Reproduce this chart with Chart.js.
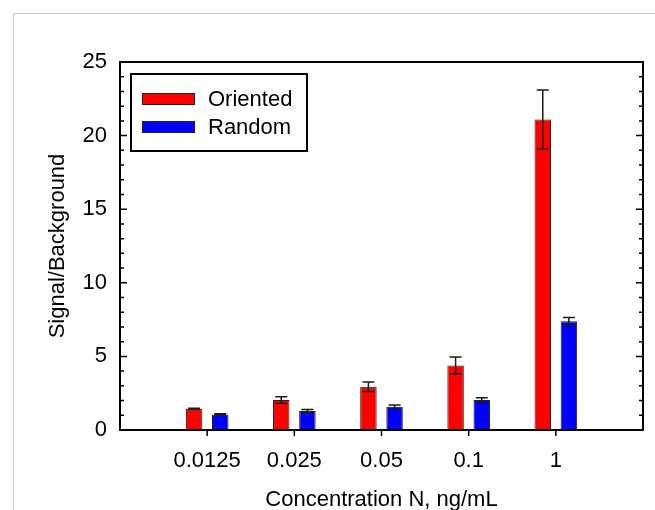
<!DOCTYPE html>
<html>
<head>
<meta charset="utf-8">
<script src="https://cdn.jsdelivr.net/npm/chart.js@4"></script>
<style>
  body { margin: 0; background: #fff; }
  canvas { display: block; }
</style>
</head>
<body>
<canvas id="sbChart" width="655" height="510"></canvas>
<script>
// concentrations (ng/mL) and signal/background ratios
const categories = ['0.0125', '0.025', '0.05', '0.1', '1'];
const orientedVals = [1.45, 2.04, 2.94, 4.39, 21.1];
const orientedErr  = [0.03, 0.22, 0.32, 0.57, 2.0];
const randomVals   = [1.05, 1.29, 1.58, 2.04, 7.38];
const randomErr    = [0.05, 0.11, 0.12, 0.15, 0.27];
const yTicks = [0, 5, 10, 15, 20, 25];

// empty slot at each end, like the original axis
const labels = [''].concat(categories, ['']);
const pad = arr => [null].concat(arr, [null]);

const FONT = "'Liberation Sans', Arial, sans-serif";
Chart.defaults.font.family = FONT;
Chart.defaults.font.size = 22;
Chart.defaults.color = '#000';

const decor = {
    id: 'decor',
    beforeDraw(chart) {
        const ctx = chart.ctx;
        ctx.save();
        ctx.strokeStyle = '#c8c8c8';
        ctx.lineWidth = 1;
        ctx.beginPath();
        ctx.moveTo(13.5, 510);
        ctx.lineTo(13.5, 13.5);
        ctx.lineTo(655, 13.5);
        ctx.stroke();
        ctx.restore();
    },
    afterDatasetsDraw(chart) {
        const ctx = chart.ctx;
        const y = chart.scales.y;
        const errs = [orientedErr, randomErr];
        ctx.save();
        ctx.strokeStyle = '#1a1a1a';
        ctx.lineWidth = 1.5;
        chart.data.datasets.forEach((ds, di) => {
            const meta = chart.getDatasetMeta(di);
            meta.data.forEach((bar, i) => {
                const v = ds.data[i];
                if (v == null) return;
                const e = errs[di][i - 1];
                const top = y.getPixelForValue(v + e);
                const bot = y.getPixelForValue(v - e);
                ctx.beginPath();
                ctx.moveTo(bar.x, top); ctx.lineTo(bar.x, bot);
                ctx.moveTo(bar.x - 6, top); ctx.lineTo(bar.x + 6, top);
                ctx.moveTo(bar.x - 6, bot); ctx.lineTo(bar.x + 6, bot);
                ctx.stroke();
            });
        });
        ctx.restore();
    },
    afterDraw(chart) {
        const ctx = chart.ctx;
        const a = chart.chartArea;
        const x = chart.scales.x;
        const y = chart.scales.y;
        ctx.save();
        ctx.strokeStyle = '#000';
        // frame
        ctx.lineWidth = 2;
        ctx.strokeRect(a.left, a.top, a.right - a.left, a.bottom - a.top);
        // y ticks, inward on both sides, minor every 1
        ctx.lineWidth = 1.5;
        ctx.beginPath();
        for (let v = 0; v <= 25; v++) {
            const py = y.getPixelForValue(v);
            const len = yTicks.includes(v) ? 7 : 4;
            ctx.moveTo(a.left, py); ctx.lineTo(a.left + len, py);
            ctx.moveTo(a.right, py); ctx.lineTo(a.right - len, py);
        }
        // x ticks, outward
        categories.forEach((c, i) => {
            const px = x.getPixelForValue(i + 1);
            ctx.moveTo(px, a.bottom); ctx.lineTo(px, a.bottom + 6);
        });
        ctx.stroke();

        // legend box
        const lx = 131, ly = 74, lw = 176, lh = 77;
        ctx.fillStyle = '#fff';
        ctx.lineWidth = 2;
        ctx.fillRect(lx, ly, lw, lh);
        ctx.strokeRect(lx, ly, lw, lh);
        ctx.font = '22px ' + FONT;
        ctx.textBaseline = 'middle';
        ctx.textAlign = 'left';
        chart.data.datasets.forEach((ds, di) => {
            const cy = 99 + di * 28;
            ctx.fillStyle = ds.backgroundColor;
            ctx.fillRect(142, cy - 5.5, 53, 11);
            ctx.lineWidth = 1;
            ctx.strokeStyle = '#222';
            ctx.strokeRect(142.5, cy - 5.5, 52, 11);
            ctx.fillStyle = '#000';
            ctx.fillText(ds.label, 208, cy + 1);
        });
        ctx.restore();
    }
};

new Chart(document.getElementById('sbChart'), {
    type: 'bar',
    data: {
        labels: labels,
        datasets: [{
            label: 'Oriented',
            data: pad(orientedVals),
            backgroundColor: '#ff0000',
            borderColor: '#222',
            borderWidth: 1
        }, {
            label: 'Random',
            data: pad(randomVals),
            backgroundColor: '#0000ff',
            borderColor: '#222',
            borderWidth: 1
        }]
    },
    options: {
        responsive: false,
        animation: false,
        categoryPercentage: 0.6,
        barPercentage: 0.63,
        layout: { padding: { top: 62, right: 12, left: 0, bottom: 0 } },
        plugins: {
            legend: { display: false },
            tooltip: { enabled: false }
        },
        scales: {
            x: {
                offset: false,
                grid: { display: false, drawTicks: false, offset: false },
                border: { display: false },
                ticks: { padding: 18, autoSkip: false, maxRotation: 0 },
                title: {
                    display: true,
                    text: 'Concentration N, ng/mL',
                    padding: { top: 0, bottom: -3 }
                },
                afterFit(scale) {
                    scale.height = 80;
                    scale.paddingLeft = 0;
                    scale.paddingRight = 0;
                }
            },
            y: {
                min: 0,
                max: 25,
                ticks: { stepSize: 5, padding: 13 },
                grid: { display: false, drawTicks: false },
                border: { display: false },
                title: {
                    display: true,
                    text: 'Signal/Background',
                    padding: { top: 45, bottom: 0 }
                },
                afterFit(scale) { scale.width = 120; }
            }
        }
    },
    plugins: [decor]
});
</script>
</body>
</html>
